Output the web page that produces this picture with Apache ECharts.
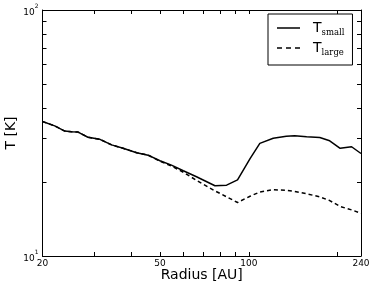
<!DOCTYPE html>
<html>
<head>
<meta charset="utf-8">
<script src="https://cdn.jsdelivr.net/npm/echarts@6/dist/echarts.min.js"></script>
<style>
html,body{margin:0;padding:0;background:#fff;}
#c{width:374px;height:291px;}
</style>
</head>
<body>
<div id="c"></div>
<script>
const radius = [20, 22, 23.8, 25.1, 26.4, 28.5, 31.3, 34.3, 37.5, 41.7, 45.6, 50, 54.7, 60, 66.5, 76.8, 84.1, 91.6, 101, 109, 121, 134, 143, 157, 174, 188, 204, 223, 240];
const tSmall = [35.2, 33.8, 32.2, 32.0, 31.9, 30.4, 29.8, 28.3, 27.4, 26.3, 25.7, 24.4, 23.4, 22.2, 21.0, 19.3, 19.4, 20.4, 24.9, 28.7, 30.1, 30.7, 30.8, 30.5, 30.3, 29.4, 27.4, 27.8, 26.1];
const tLarge = [35.2, 33.8, 32.2, 32.0, 31.9, 30.4, 29.8, 28.3, 27.4, 26.3, 25.7, 24.3, 23.2, 21.9, 20.3, 18.4, 17.4, 16.5, 17.5, 18.2, 18.6, 18.5, 18.3, 17.9, 17.4, 16.8, 15.9, 15.4, 14.9];
const xTicks = [20, 30, 40, 50, 60, 70, 80, 90, 100, 200, 240];
const xLabels = [20, 50, 100, 240];
const yTicks = [10, 20, 30, 40, 50, 60, 70, 80, 90, 100];
const yLabels = [10, 100];
const seriesNames = ['T_small', 'T_large'];
const xTitle = 'Radius [AU]';
const yTitle = 'T [K]';

const pairs = (ys) => radius.map((r, i) => [r, ys[i]]);
const font = 'DejaVu Sans';
const tick = (vals) => ({show: true, inside: true, length: 4, customValues: vals, lineStyle: {color: '#000', width: 1}});

const chart = echarts.init(document.getElementById('c'), null, {renderer: 'canvas'});
chart.setOption({
  animation: false,
  backgroundColor: '#fff',
  grid: {left: 42.5, right: 13, top: 10, bottom: 35, containLabel: false, outerBoundsMode: 'none'},
  legend: {
    orient: 'vertical',
    left: 268,
    top: 14,
    padding: [7, 8, 8, 9],
    itemGap: 4,
    itemWidth: 23,
    itemHeight: 2,
    borderColor: '#000',
    borderWidth: 1,
    backgroundColor: '#fff',
    data: [
      {name: seriesNames[0], icon: 'path://M0,0h23v1.5h-23z'},
      {name: seriesNames[1], icon: 'path://M0,0h5v1.5h-5zM9,0h5v1.5h-5zM18,0h5v1.5h-5z'}
    ],
    formatter: (n) => '{t|T}{s|' + n.split('_')[1] + '}',
    textStyle: {
      rich: {
        t: {fontFamily: font, fontSize: 14, color: '#000', lineHeight: 18, verticalAlign: 'middle', padding: [0, 0, 0, 8]},
        s: {fontFamily: 'DejaVu Serif', fontSize: 8.5, color: '#000', lineHeight: 18, verticalAlign: 'bottom', padding: [5, 0, 0, 0]}
      }
    }
  },
  xAxis: [{
    type: 'log', logBase: 10, min: 20, max: 240,
    name: xTitle, nameLocation: 'middle', nameGap: 12, nameMoveOverlap: false,
    nameTextStyle: {fontFamily: font, fontSize: 14, color: '#000', verticalAlign: 'top'},
    axisLine: {show: true, lineStyle: {color: '#000', width: 1}},
    axisTick: tick(xTicks),
    splitLine: {show: false},
    axisLabel: {customValues: xLabels, fontFamily: font, fontSize: 9, color: '#000', margin: 3, formatter: (v) => String(Math.round(v))}
  }, {
    type: 'log', logBase: 10, min: 20, max: 240, position: 'top',
    axisLine: {show: true, onZero: false, lineStyle: {color: '#000', width: 1}},
    axisTick: tick(xTicks),
    splitLine: {show: false},
    axisLabel: {show: false}
  }],
  yAxis: [{
    type: 'log', logBase: 10, min: 10, max: 100,
    name: yTitle, nameLocation: 'middle', nameGap: 24, nameRotate: 90, nameMoveOverlap: false,
    nameTextStyle: {fontFamily: font, fontSize: 14, color: '#000'},
    axisLine: {show: true, lineStyle: {color: '#000', width: 1}},
    axisTick: tick(yTicks),
    splitLine: {show: false},
    axisLabel: {
      customValues: yLabels, margin: 4,
      formatter: (v) => '{b|10}{p|' + Math.round(Math.log10(v)) + '}',
      rich: {
        b: {fontFamily: font, fontSize: 9, color: '#000', lineHeight: 14, verticalAlign: 'bottom'},
        p: {fontFamily: font, fontSize: 6, color: '#000', lineHeight: 14, verticalAlign: 'top'}
      }
    }
  }, {
    type: 'log', logBase: 10, min: 10, max: 100, position: 'right',
    axisLine: {show: true, onZero: false, lineStyle: {color: '#000', width: 1}},
    axisTick: tick(yTicks),
    splitLine: {show: false},
    axisLabel: {show: false}
  }],
  series: [{
    name: seriesNames[0], type: 'line', data: pairs(tSmall),
    showSymbol: false, symbol: 'none',
    lineStyle: {color: '#000', width: 1.5, type: 'solid'},
    itemStyle: {color: '#000'}
  }, {
    name: seriesNames[1], type: 'line', data: pairs(tLarge),
    showSymbol: false, symbol: 'none',
    lineStyle: {color: '#000', width: 1.5, type: [4, 3]},
    itemStyle: {color: '#000'}
  }]
});
</script>
</body>
</html>
